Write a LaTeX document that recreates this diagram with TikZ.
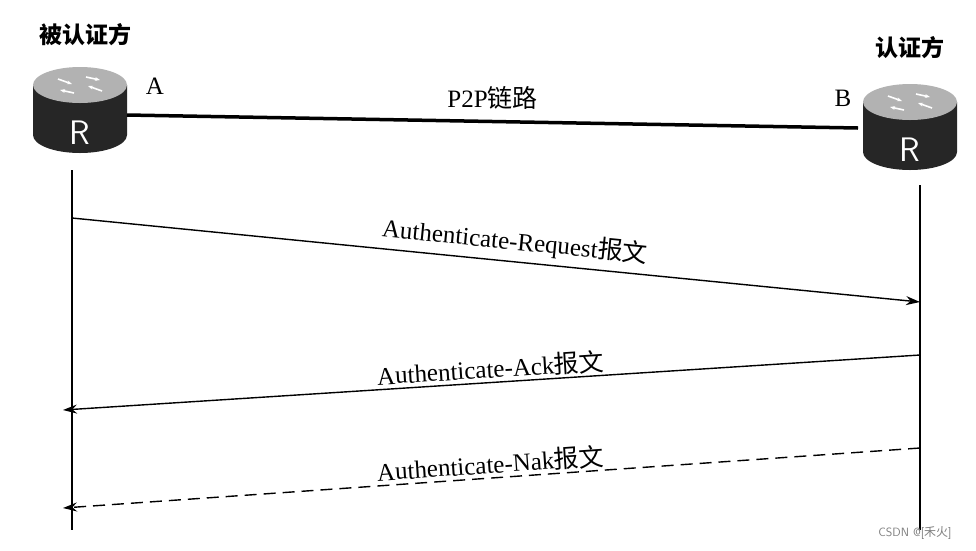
\documentclass[tikz,border=0pt]{standalone}
\usepackage{fontspec}
\setmainfont{Liberation Serif}
\newfontfamily\cjk{Noto Sans CJK SC}
\usetikzlibrary{arrows.meta}
\tikzset{
  lbl/.style={font=\fontsize{25}{27}\selectfont, inner sep=2pt},
  msg/.style={line width=1.4pt, -{Stealth[length=14pt,width=9pt]}},
  life/.style={line width=1.2pt},
  pics/router/.style={code={
    \fill[black!85] (-47,0) -- (-47,50) arc[start angle=180,end angle=0,x radius=47,y radius=18] -- (47,0) -- cycle;
    \fill[gray!60] (0,0) ellipse[x radius=47,y radius=18];
    \draw[white,line width=1.6pt,-{Stealth[length=5pt]}] (-22,-6) -- (-8,-1);
    \draw[white,line width=1.6pt,-{Stealth[length=5pt]}] (22,6) -- (8,1);
    \draw[white,line width=1.6pt,-{Stealth[length=5pt]}] (-6,8) -- (-20,5);
    \draw[white,line width=1.6pt,-{Stealth[length=5pt]}] (6,-8) -- (20,-5);
    \node[text=white,font=\sffamily\fontsize{34}{34}\selectfont] at (0,48) {R};
  }}
}
\begin{document}
\begin{tikzpicture}[x=1pt,y=-1pt]
\useasboundingbox[fill=white] (0,0) rectangle (976,550);
\pic at (80,85) {router};
\pic at (910,102) {router};
\node[lbl,font=\cjk\bfseries\fontsize{23}{25}\selectfont] (tA) at (85,35) {被认证方};
\node[lbl,font=\cjk\bfseries\fontsize{23}{25}\selectfont] (tB) at (910,48) {认证方};
\node[lbl] (la) at (155,86) {A};
\node[lbl] (lb) at (843,98) {B};
\coordinate (A) at (127,115);
\coordinate (B) at (858,128);
\draw[line width=3.5pt] (A) -- node[lbl,above=8pt,pos=0.5] (p2p) {P2P\cjk 链路} (B);
\coordinate (L0) at (72,170); \coordinate (L1) at (72,530);
\coordinate (R0) at (920,185); \coordinate (R1) at (920,530);
\draw[life] (L0) -- (L1);
\draw[life] (R0) -- (R1);
\coordinate (m1s) at (72,218); \coordinate (m1e) at (920,302);
\coordinate (m2s) at (920,355); \coordinate (m2e) at (63,410);
\coordinate (m3s) at (920,448); \coordinate (m3e) at (63,508);
\draw[msg] (m1s) -- node[lbl,sloped,above=4pt,pos=0.52] (t1) {Authenticate-Request{\cjk 报文}} (m1e);
\draw[msg] (m2s) -- node[lbl,sloped,above,pos=0.5] (t2) {Authenticate-Ack{\cjk 报文}} (m2e);
\draw[msg,dashed,dash pattern=on 12pt off 7pt] (m3s) -- node[lbl,sloped,above,pos=0.5] (t3) {Authenticate-Nak{\cjk 报文}} (m3e);
\node[font=\sffamily\fontsize{12}{12}\selectfont,text=gray] (wm) at (915,533) {CSDN @[{\cjk 禾火}]};
\end{tikzpicture}
\end{document}
